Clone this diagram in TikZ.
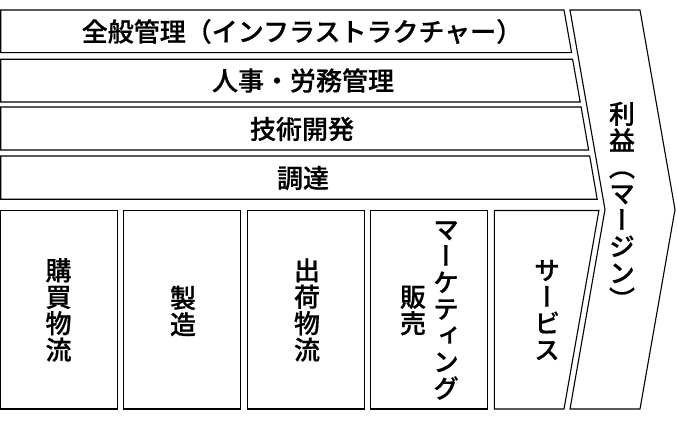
\documentclass[tikz,border=0pt]{standalone}
\usepackage{fontspec}
\newfontfamily\jp{Noto Sans CJK JP Medium}[FakeBold=0.6]
\newfontfamily\vjp{Noto Sans CJK JP Medium}[RawFeature=+vert, FakeBold=0.6]
\tikzset{
  box/.style={draw=black, line width=1.1pt, line join=miter},
  htext/.style={font=\jp\fontsize{26}{26}\selectfont, inner sep=0pt},
  vtext/.style={font=\vjp\fontsize{26}{26.5}\selectfont, align=center, inner sep=0pt},
}
\begin{document}
\begin{tikzpicture}[x=1pt,y=-1pt]
\useasboundingbox (0,0) rectangle (677,422);
% support activities
\draw[box] (0.7,10) -- (564,10) -- (571.6,52.7) -- (0.7,52.7) -- cycle;
\draw[box] (0.7,59.3) -- (572.6,59.3) -- (580.2,102) -- (0.7,102) -- cycle;
\draw[box] (0.7,107) -- (581.1,107) -- (588.6,150) -- (0.7,150) -- cycle;
\draw[box] (0.7,156) -- (589.7,156) -- (597.2,199.3) -- (0.7,199.3) -- cycle;
% primary activities
\draw[box] (0.7,210.5) rectangle (117.5,409);
\draw[box] (123.7,210.5) rectangle (240.5,409);
\draw[box] (247.3,210.5) rectangle (364.5,409);
\draw[box] (370.3,210.5) rectangle (487.7,409);
\draw[box] (494.3,210.5) -- (598.9,210.5) -- (564,409) -- (494.3,409) -- cycle;
% margin
\draw[box] (570,10) -- (640,10) -- (675,209.5) -- (640,409) -- (570,409) -- (605,209.5) -- cycle;
% texts
\node[htext] (infra) at (302,31.5) {全般管理（インフラストラクチャー）};
\node[htext] (hr) at (303,80.5) {人事・労務管理};
\node[htext] (tech) at (302,129) {技術開発};
\node[htext] (proc) at (303,178) {調達};
\node[vtext] (inb) at (58.5,310) {購\\買\\物\\流};
\node[vtext] (ops) at (183,311) {製\\造};
\node[vtext] (outb) at (307,310) {出\\荷\\物\\流};
\node[vtext] (mkt) at (446,310.5) {マ\\ー\\ケ\\テ\\ィ\\ン\\グ};
\node[vtext] (sales) at (413,310.5) {販\\売};
\node[vtext] (serv) at (547,310) {サ\\ー\\ビ\\ス};
\node[vtext] (margin) at (622,205.5) {利\\益\\（\\マ\\ー\\ジ\\ン\\）};
\end{tikzpicture}
\end{document}
